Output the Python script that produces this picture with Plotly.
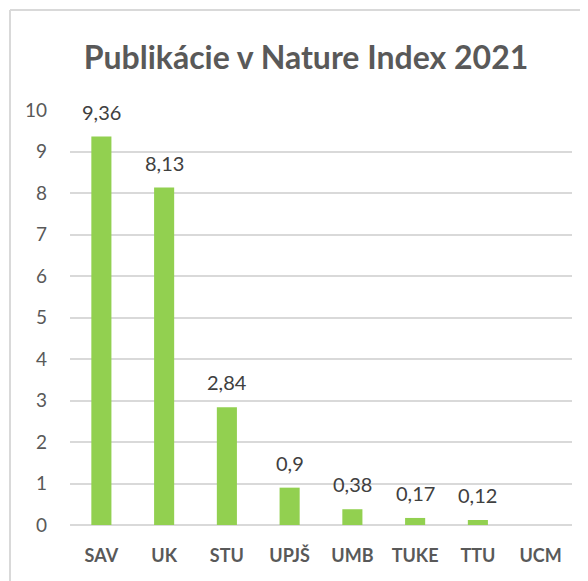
import plotly.graph_objects as go

categories = ["SAV", "UK", "STU", "UPJŠ", "UMB", "TUKE", "TTU", "UCM"]
values = [9.36, 8.13, 2.84, 0.9, 0.38, 0.17, 0.12, 0]
labels = ["9,36", "8,13", "2,84", "0,9", "0,38", "0,17", "0,12", ""]
y_ticks = [0, 1, 2, 3, 4, 5, 6, 7, 8, 9, 10]

OFF = 8  # default page body margin
W, H = 588, 581
ml, mt = 70 - OFF, 110 - OFF
plot_right, plot_bottom = 572 - OFF, 525 - OFF
mr, mb = W - plot_right, H - plot_bottom
pw, ph = W - ml - mr, H - mt - mb

fig = go.Figure(go.Bar(
    x=categories, y=values,
    marker=dict(color="#92D050", line=dict(width=0)),
    width=0.32,
))

for c, v, t in zip(categories, values, labels):
    if t:
        fig.add_annotation(x=c, y=v, text=t, showarrow=False, yanchor="bottom",
                           yshift=11, font=dict(family="Lato", size=20, color="#404040"))

def px_x(p):
    return (p - OFF - ml) / pw

def px_y(p):
    return 1 - (p - OFF - mt) / ph

fig.add_shape(type="line", xref="paper", yref="paper",
              x0=px_x(10), x1=px_x(10), y0=px_y(10), y1=px_y(620),
              line=dict(color="#D9D9D9", width=2))
fig.add_shape(type="line", xref="paper", yref="paper",
              x0=px_x(10), x1=px_x(640), y0=px_y(10), y1=px_y(10),
              line=dict(color="#D9D9D9", width=2))

fig.update_layout(
    width=W, height=H,
    margin=dict(l=ml, r=mr, t=mt, b=mb),
    paper_bgcolor="white", plot_bgcolor="white",
    title=dict(text="<b>Publikácie v Nature Index 2021</b>", x=(306 - OFF) / W, xanchor="center",
               y=1 - (58 - OFF) / H, yanchor="middle",
               font=dict(family="Lato", size=32, color="#595959")),
    showlegend=False,
    xaxis=dict(tickfont=dict(family="Lato", size=18, color="#595959", weight="bold"),
               showline=False, showgrid=False, ticks="", ticklabelstandoff=18),
    yaxis=dict(range=[0, 10], tickvals=y_ticks, showgrid=True, gridcolor="#D9D9D9", gridwidth=1.5,
               zeroline=True, zerolinecolor="#D9D9D9", zerolinewidth=1.5,
               tickfont=dict(family="Lato", size=19, color="#595959"),
               showline=False, ticks="", ticklabelstandoff=22),
)

fig.write_html("out.html")
